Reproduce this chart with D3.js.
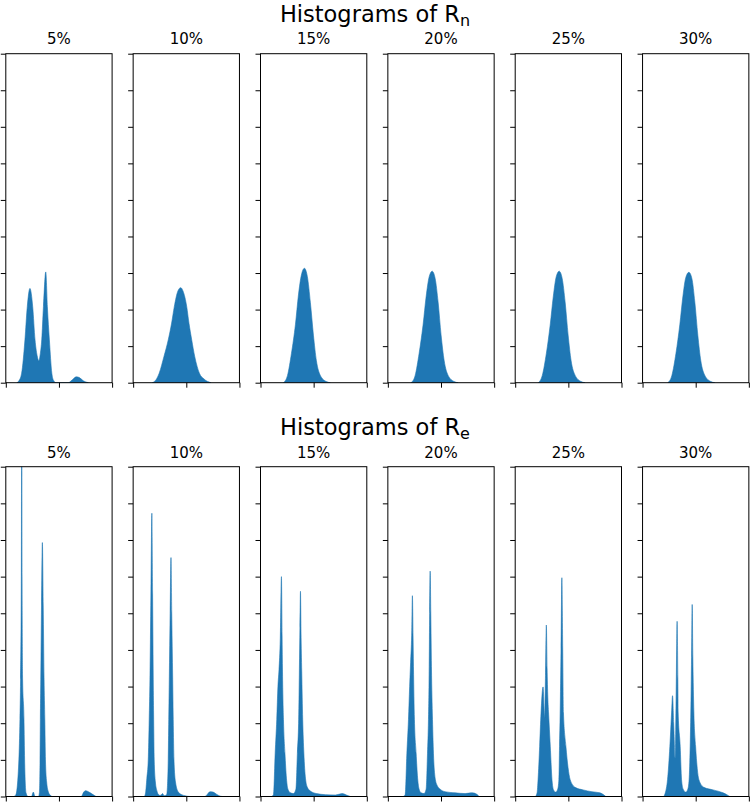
<!DOCTYPE html>
<html><head><meta charset="utf-8">
<script src="https://cdn.jsdelivr.net/npm/d3@7"></script>
<style>body{margin:0;background:#fff} svg{display:block}</style>
</head><body>
<svg id="chart" width="750" height="802"></svg>
<script>
// ---------- data ----------
const percents = ["5%", "10%", "15%", "20%", "25%", "30%"];
const yTickValues = [0, 1, 2, 3, 4, 5, 6, 7, 8, 9];
const xTickValues = [0, 0.5, 1];
const titleText = "Histograms of R";
const titleSubs = ["n", "e"];

// densities of R_n, [x, density]
const rn5 = [[0.104,0],[0.123,0.05],[0.149,0.26],[0.180,1.17],[0.202,2.08],[0.227,2.58],[0.253,2.08],[0.275,1.17],[0.294,0.75],[0.310,0.6],[0.325,0.8],[0.338,1.17],[0.354,2.08],[0.376,3.03],[0.391,2.08],[0.410,1.17],[0.433,0.26],[0.450,0.06],[0.474,0],[0.588,0],[0.626,0.08],[0.664,0.16],[0.692,0.14],[0.730,0.05],[0.777,0]];
const rn10 = [[0.180,0],[0.215,0.08],[0.245,0.26],[0.290,0.72],[0.330,1.17],[0.362,1.63],[0.387,2.08],[0.420,2.5],[0.447,2.6],[0.470,2.5],[0.504,2.08],[0.525,1.63],[0.551,1.17],[0.579,0.72],[0.623,0.26],[0.667,0.1],[0.733,0]];
const rn15 = [[0.216,0],[0.254,0.2],[0.291,0.8],[0.329,1.6],[0.357,2.4],[0.385,2.95],[0.413,3.13],[0.441,2.9],[0.469,2.2],[0.498,1.3],[0.526,0.6],[0.563,0.2],[0.620,0.03],[0.657,0]];
const rn20 = [[0.219,0],[0.257,0.2],[0.294,0.8],[0.332,1.6],[0.360,2.35],[0.389,2.9],[0.417,3.05],[0.445,2.85],[0.473,2.2],[0.501,1.3],[0.530,0.6],[0.567,0.2],[0.624,0.03],[0.661,0]];
const rn25 = [[0.218,0],[0.255,0.2],[0.293,0.8],[0.330,1.6],[0.358,2.35],[0.386,2.9],[0.414,3.05],[0.442,2.85],[0.470,2.2],[0.498,1.3],[0.526,0.6],[0.564,0.2],[0.620,0.03],[0.657,0]];
const rn30 = [[0.238,0],[0.276,0.2],[0.314,0.8],[0.351,1.6],[0.379,2.35],[0.407,2.88],[0.436,3.02],[0.464,2.85],[0.492,2.2],[0.520,1.3],[0.548,0.6],[0.586,0.2],[0.643,0.03],[0.680,0]];

// densities of R_e, [x, density]
const re5 = [[0.076,0],[0.095,0.05],[0.123,1.0],[0.133,2.1],[0.139,3.2],[0.146,6],[0.150,11],[0.153,6],[0.158,3.2],[0.171,2.1],[0.177,1.0],[0.190,0.1],[0.209,0],[0.242,0],[0.259,0.12],[0.275,0],[0.308,0],[0.316,0.1],[0.322,1.0],[0.325,2.1],[0.329,3.2],[0.336,5.2],[0.344,6.93],[0.352,5.2],[0.360,3.2],[0.367,2.1],[0.373,1.0],[0.384,0.4],[0.401,0.12],[0.417,0.04],[0.436,0],[0.711,0],[0.733,0.12],[0.749,0.16],[0.777,0.13],[0.806,0.08],[0.844,0.01],[0.853,0]];
const re10 = [[0.106,0],[0.117,0.1],[0.129,0.5],[0.142,1.0],[0.151,2.1],[0.158,3.2],[0.167,5.5],[0.176,7.73],[0.183,5.5],[0.189,3.2],[0.193,2.1],[0.198,1.0],[0.209,0.4],[0.224,0.15],[0.236,0.06],[0.252,0.03],[0.266,0.05],[0.277,0.08],[0.290,0.02],[0.315,0.05],[0.323,0.3],[0.330,1.0],[0.335,2.1],[0.340,3.2],[0.348,5],[0.356,6.52],[0.363,5],[0.372,3.2],[0.377,2.1],[0.384,1.0],[0.398,0.4],[0.425,0.12],[0.457,0.05],[0.488,0.02],[0.535,0],[0.676,0],[0.695,0.05],[0.723,0.13],[0.752,0.12],[0.780,0.07],[0.818,0.01],[0.837,0]];
const re15 = [[0.103,0],[0.122,0.05],[0.138,1.18],[0.153,2.1],[0.164,3.0],[0.174,3.46],[0.186,4.3],[0.197,6.0],[0.203,4.4],[0.207,3.4],[0.216,2.1],[0.230,1.18],[0.244,0.5],[0.258,0.2],[0.282,0.1],[0.310,0.08],[0.333,0.2],[0.347,1.18],[0.359,2.1],[0.366,3.5],[0.371,4.6],[0.376,5.6],[0.381,4.5],[0.388,3.4],[0.397,2.1],[0.408,1.18],[0.423,0.5],[0.441,0.25],[0.469,0.15],[0.526,0.08],[0.610,0.05],[0.704,0.04],[0.770,0.08],[0.808,0.04],[0.845,0]];
const re20 = [[0.144,0],[0.163,0.05],[0.179,1.18],[0.194,2.1],[0.205,3.0],[0.214,3.65],[0.224,4.4],[0.231,5.48],[0.237,4.4],[0.241,3.55],[0.250,2.1],[0.266,1.18],[0.280,0.5],[0.294,0.2],[0.313,0.1],[0.341,0.08],[0.360,0.2],[0.373,1.18],[0.382,2.1],[0.389,3.55],[0.393,5],[0.398,6.15],[0.404,5],[0.410,3.55],[0.420,2.1],[0.429,1.18],[0.445,0.5],[0.464,0.3],[0.492,0.2],[0.539,0.13],[0.633,0.1],[0.727,0.08],[0.793,0.1],[0.837,0.06],[0.859,0]];
const re25 = [[0.190,0],[0.206,0.1],[0.215,0.46],[0.230,1.37],[0.243,2.28],[0.262,2.99],[0.277,2.15],[0.285,3.3],[0.293,4.68],[0.300,3.5],[0.307,2.7],[0.314,2.28],[0.330,1.37],[0.346,0.46],[0.361,0.18],[0.381,0.12],[0.400,0.2],[0.411,0.46],[0.417,1.37],[0.423,2.28],[0.431,4],[0.439,5.97],[0.447,4],[0.454,2.28],[0.477,1.37],[0.517,0.46],[0.564,0.25],[0.639,0.18],[0.722,0.13],[0.797,0.1],[0.825,0.06],[0.853,0]];
const re30 = [[0.200,0],[0.214,0.1],[0.235,0.46],[0.257,1.37],[0.273,2.28],[0.282,2.75],[0.293,2.0],[0.307,1.06],[0.316,2.8],[0.325,4.78],[0.332,3.2],[0.335,2.28],[0.354,1.37],[0.367,0.46],[0.382,0.2],[0.407,0.12],[0.426,0.2],[0.438,0.46],[0.448,1.37],[0.454,2.28],[0.461,3.8],[0.467,5.24],[0.473,3.8],[0.483,2.28],[0.499,1.37],[0.530,0.46],[0.577,0.25],[0.664,0.18],[0.758,0.1],[0.793,0.05],[0.821,0]];

const rnSeries = [rn5, rn10, rn15, rn20, rn25, rn30];
const reSeries = [re5, re10, re15, re20, re25, re30];

// ---------- layout ----------
const panelLeft0 = 5.8, panelStep = 127.35, panelW = 106.3;
const rows = [
  {top: 53.7, bottom: 382.7, titleY: 22, subY: 44, series: rnSeries, sub: titleSubs[0]},
  {top: 466.7, bottom: 796.5, titleY: 435.3, subY: 457.5, series: reSeries, sub: titleSubs[1]}
];
const FONT = "'DejaVu Sans', sans-serif";
const svg = d3.select("#chart");
const defs = svg.append("defs");

rows.forEach((row, ri) => {
  const t = svg.append("text")
    .attr("x", 375).attr("y", row.titleY)
    .attr("text-anchor", "middle")
    .style("font-family", FONT).style("font-size", "22.5px").attr("fill", "#000");
  t.append("tspan").text(titleText);
  t.append("tspan").attr("dy", 4).style("font-size", "16px").text(row.sub);

  const y = d3.scaleLinear().domain([0, 9]).range([row.bottom, row.top]);

  row.series.forEach((data, i) => {
    const x0 = panelLeft0 + i * panelStep;
    const x = d3.scaleLinear().domain([0, 1]).range([x0, x0 + panelW]);
    const g = svg.append("g");
    const cid = `clip-${ri}-${i}`;
    defs.append("clipPath").attr("id", cid).append("rect")
      .attr("x", x0).attr("y", row.top).attr("width", panelW).attr("height", row.bottom - row.top);

    const area = d3.area()
      .x(d => x(d[0])).y0(y(0)).y1(d => y(d[1]))
      .curve(d3.curveMonotoneX);
    g.append("path").datum(data)
      .attr("clip-path", `url(#${cid})`)
      .attr("d", area)
      .attr("fill", "#1f77b4").attr("stroke", "#1f77b4").attr("stroke-width", 0.6);

    const ya = d3.axisLeft(y).tickValues(yTickValues).tickSize(5).tickSizeOuter(0).tickFormat("");
    g.append("g").attr("transform", `translate(${x0},0)`).call(ya)
      .call(s => s.select(".domain").remove())
      .call(s => s.selectAll("line").attr("stroke", "#000").attr("stroke-width", 1));
    const xa = d3.axisBottom(x).tickValues(xTickValues).tickSize(5).tickSizeOuter(0).tickFormat("");
    g.append("g").attr("transform", `translate(0,${row.bottom})`).call(xa)
      .call(s => s.select(".domain").remove())
      .call(s => s.selectAll("line").attr("stroke", "#000").attr("stroke-width", 1));

    g.append("rect")
      .attr("x", x0).attr("y", row.top).attr("width", panelW).attr("height", row.bottom - row.top)
      .attr("fill", "none").attr("stroke", "#000").attr("stroke-width", 1);

    svg.append("text")
      .attr("x", x0 + panelW / 2).attr("y", row.subY)
      .attr("text-anchor", "middle")
      .style("font-family", FONT).style("font-size", "15px").attr("fill", "#000")
      .text(percents[i]);
  });
});
</script>
</body></html>
